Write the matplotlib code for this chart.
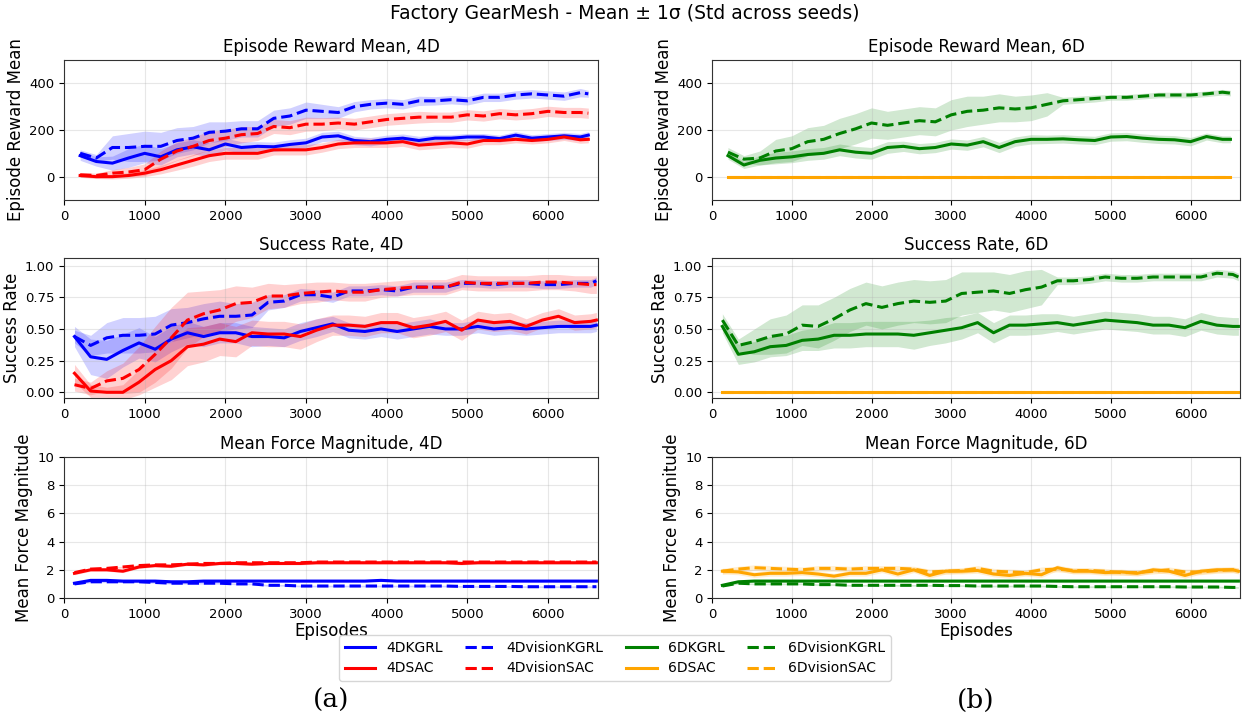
import numpy as np
import matplotlib
matplotlib.use("Agg")
import matplotlib.pyplot as plt
from matplotlib.lines import Line2D

# episodes on the x axis
ep_reward = np.append(np.arange(200, 6401, 200), 6500)
ep_rate = np.append(np.arange(130, 6531, 200), 6600)

# ---- 4D, episode reward mean ----
r4_kgrl = [90, 65, 58, 80, 100, 85, 115, 128, 115, 140, 125, 130, 128, 138, 145, 170, 175,
           155, 150, 160, 165, 155, 165, 165, 170, 170, 163, 178, 165, 170, 175, 170, 178]
r4_kgrl_sd = [20, 20, 30, 40, 40, 35, 30, 30, 30, 25, 25, 20, 20, 20, 20, 20, 20,
              18, 18, 18, 18, 18, 15, 15, 15, 15, 15, 15, 15, 15, 15, 15, 15]
r4_vkgrl = [100, 80, 125, 125, 130, 130, 155, 165, 190, 195, 205, 205, 250, 260, 285, 280, 275,
            300, 310, 315, 310, 325, 325, 330, 325, 340, 340, 350, 355, 350, 345, 360, 355]
r4_vkgrl_sd = [15, 15, 50, 60, 65, 60, 55, 50, 45, 40, 35, 35, 35, 35, 35, 30, 25,
               22, 20, 20, 20, 20, 18, 18, 18, 18, 18, 18, 18, 18, 18, 18, 15]
r4_sac = [5, 0, 0, 5, 15, 30, 50, 70, 90, 100, 100, 100, 115, 115, 115, 125, 140,
          145, 145, 145, 150, 135, 140, 145, 140, 155, 155, 160, 155, 160, 170, 158, 160]
r4_sac_sd = [8, 8, 10, 12, 15, 18, 22, 25, 25, 25, 25, 25, 22, 22, 22, 20, 20,
             20, 20, 20, 20, 20, 20, 20, 18, 18, 18, 15, 15, 15, 15, 15, 15]
r4_vsac = [8, 5, 15, 20, 30, 75, 110, 130, 155, 165, 180, 185, 215, 210, 225, 225, 230,
           225, 235, 245, 250, 255, 255, 255, 265, 260, 270, 265, 270, 280, 275, 275, 272]
r4_vsac_sd = [10, 10, 15, 20, 25, 35, 40, 40, 40, 35, 35, 30, 30, 30, 30, 28, 25,
              25, 25, 25, 25, 25, 22, 22, 22, 22, 22, 22, 22, 22, 22, 22, 22]

# ---- 6D, episode reward mean ----
r6_kgrl = [90, 50, 70, 80, 85, 95, 100, 115, 105, 100, 125, 130, 120, 125, 140, 135, 150,
           125, 150, 160, 160, 162, 158, 155, 170, 172, 165, 160, 158, 150, 172, 160, 160]
r6_kgrl_sd = [15, 15, 20, 25, 25, 25, 25, 25, 25, 25, 25, 22, 22, 22, 22, 22, 22,
              22, 20, 20, 18, 18, 18, 18, 18, 18, 18, 18, 18, 18, 15, 15, 15]
r6_vkgrl = [105, 75, 80, 110, 120, 150, 160, 185, 205, 230, 220, 230, 240, 235, 265, 280, 285,
            295, 290, 295, 310, 325, 330, 335, 340, 340, 345, 350, 350, 350, 355, 362, 358]
r6_vkgrl_sd = [20, 15, 30, 50, 55, 60, 60, 65, 65, 65, 60, 60, 60, 60, 65, 65, 60,
               60, 55, 55, 50, 15, 15, 15, 12, 12, 12, 12, 12, 12, 12, 12, 12]
r6_sac = [0.0] * 33
r6_vsac = [0.0] * 33

# ---- 4D, success rate ----
s4_kgrl = [0.44, 0.28, 0.26, 0.33, 0.39, 0.34, 0.42, 0.47, 0.44, 0.47, 0.47, 0.44, 0.44, 0.43, 0.48, 0.51, 0.54,
           0.49, 0.48, 0.50, 0.48, 0.50, 0.52, 0.50, 0.50, 0.52, 0.50, 0.51, 0.50, 0.51, 0.52, 0.52, 0.52, 0.53]
s4_kgrl_sd = [0.08, 0.14, 0.15, 0.13, 0.12, 0.10, 0.10, 0.09, 0.08, 0.08, 0.08, 0.08, 0.07, 0.07, 0.07, 0.07, 0.06,
              0.06, 0.06, 0.06, 0.06, 0.06, 0.06, 0.05, 0.05, 0.05, 0.05, 0.05, 0.05, 0.05, 0.05, 0.05, 0.05, 0.05]
s4_vkgrl = [0.44, 0.37, 0.43, 0.45, 0.45, 0.46, 0.53, 0.55, 0.58, 0.60, 0.60, 0.61, 0.71, 0.72, 0.77, 0.77, 0.75,
            0.80, 0.80, 0.81, 0.80, 0.83, 0.83, 0.83, 0.86, 0.86, 0.85, 0.86, 0.86, 0.85, 0.85, 0.86, 0.86, 0.88]
s4_vkgrl_sd = [0.05, 0.08, 0.12, 0.14, 0.14, 0.14, 0.13, 0.12, 0.12, 0.12, 0.10, 0.10, 0.06, 0.05, 0.05, 0.04, 0.04,
               0.04, 0.04, 0.04, 0.04, 0.04, 0.04, 0.04, 0.03, 0.03, 0.03, 0.03, 0.03, 0.03, 0.03, 0.03, 0.03, 0.03]
s4_sac = [0.15, 0.01, 0.0, 0.0, 0.08, 0.18, 0.25, 0.36, 0.38, 0.42, 0.40, 0.47, 0.46, 0.46, 0.44, 0.49, 0.53,
          0.53, 0.52, 0.55, 0.55, 0.51, 0.53, 0.56, 0.49, 0.57, 0.55, 0.56, 0.52, 0.57, 0.60, 0.55, 0.56, 0.57]
s4_sac_sd = [0.07, 0.05, 0.04, 0.06, 0.10, 0.14, 0.15, 0.15, 0.14, 0.13, 0.12, 0.10, 0.10, 0.10, 0.10, 0.09, 0.08,
             0.08, 0.08, 0.08, 0.08, 0.08, 0.08, 0.08, 0.08, 0.07, 0.07, 0.07, 0.06, 0.06, 0.06, 0.06, 0.06, 0.06]
s4_vsac = [0.06, 0.03, 0.09, 0.11, 0.18, 0.30, 0.43, 0.57, 0.62, 0.65, 0.70, 0.71, 0.76, 0.76, 0.78, 0.79, 0.80,
           0.79, 0.79, 0.81, 0.82, 0.83, 0.83, 0.83, 0.87, 0.86, 0.86, 0.86, 0.86, 0.87, 0.87, 0.86, 0.85, 0.85]
s4_vsac_sd = [0.05, 0.05, 0.08, 0.12, 0.18, 0.22, 0.24, 0.22, 0.18, 0.16, 0.14, 0.12, 0.10, 0.09, 0.08, 0.08, 0.07,
              0.07, 0.07, 0.06, 0.06, 0.06, 0.06, 0.06, 0.06, 0.06, 0.06, 0.06, 0.06, 0.06, 0.06, 0.06, 0.07, 0.07]

# ---- 6D, success rate ----
s6_kgrl = [0.52, 0.30, 0.32, 0.36, 0.37, 0.41, 0.42, 0.45, 0.45, 0.46, 0.46, 0.46, 0.45, 0.47, 0.49, 0.51, 0.55,
           0.47, 0.53, 0.53, 0.54, 0.55, 0.53, 0.55, 0.57, 0.56, 0.55, 0.53, 0.53, 0.51, 0.56, 0.53, 0.52, 0.52]
s6_kgrl_sd = [0.05, 0.08, 0.08, 0.08, 0.08, 0.08, 0.09, 0.10, 0.10, 0.10, 0.10, 0.10, 0.11, 0.10, 0.10, 0.09, 0.08,
              0.08, 0.08, 0.08, 0.08, 0.07, 0.07, 0.07, 0.07, 0.07, 0.07, 0.07, 0.07, 0.07, 0.07, 0.07, 0.07, 0.07]
s6_vkgrl = [0.57, 0.37, 0.40, 0.44, 0.46, 0.53, 0.52, 0.58, 0.65, 0.70, 0.67, 0.70, 0.72, 0.71, 0.72, 0.78, 0.79,
            0.80, 0.78, 0.81, 0.83, 0.88, 0.88, 0.89, 0.91, 0.90, 0.90, 0.91, 0.91, 0.91, 0.91, 0.94, 0.93, 0.91]
s6_vkgrl_sd = [0.05, 0.05, 0.10, 0.14, 0.15, 0.16, 0.17, 0.17, 0.17, 0.17, 0.17, 0.17, 0.17, 0.17, 0.17, 0.17, 0.16,
               0.15, 0.15, 0.15, 0.14, 0.03, 0.03, 0.03, 0.03, 0.03, 0.03, 0.03, 0.03, 0.03, 0.03, 0.03, 0.03, 0.03]
s6_sac = [0.0] * 34
s6_vsac = [0.0] * 34

# ---- 4D, mean force magnitude ----
f4_kgrl = [1.05, 1.25, 1.25, 1.2, 1.2, 1.2, 1.15, 1.15, 1.2, 1.2, 1.2, 1.2, 1.2, 1.2, 1.2, 1.2, 1.2,
           1.2, 1.2, 1.25, 1.2, 1.2, 1.2, 1.2, 1.2, 1.2, 1.2, 1.2, 1.2, 1.2, 1.2, 1.2, 1.2, 1.2]
f4_vkgrl = [1.0, 1.15, 1.15, 1.15, 1.15, 1.1, 1.05, 1.05, 1.05, 1.05, 1.0, 1.0, 0.9, 0.9, 0.85, 0.85, 0.85,
            0.85, 0.85, 0.85, 0.85, 0.85, 0.85, 0.85, 0.82, 0.82, 0.82, 0.82, 0.8, 0.8, 0.8, 0.8, 0.8, 0.8]
f4_sac = [1.75, 2.0, 2.0, 1.9, 2.2, 2.3, 2.25, 2.4, 2.35, 2.45, 2.45, 2.4, 2.45, 2.45, 2.45, 2.5, 2.5,
          2.5, 2.5, 2.5, 2.5, 2.5, 2.5, 2.5, 2.45, 2.5, 2.5, 2.5, 2.5, 2.5, 2.5, 2.5, 2.5, 2.5]
f4_vsac = [1.8, 2.05, 2.1, 2.2, 2.3, 2.35, 2.35, 2.4, 2.45, 2.45, 2.5, 2.5, 2.5, 2.5, 2.5, 2.55, 2.55,
           2.55, 2.55, 2.55, 2.55, 2.55, 2.55, 2.55, 2.55, 2.55, 2.55, 2.55, 2.55, 2.55, 2.55, 2.55, 2.55, 2.55]
f4_sd = {"4DKGRL": 0.08, "4DvisionKGRL": 0.06, "4DSAC": 0.1, "4DvisionSAC": 0.06}

# ---- 6D, mean force magnitude ----
f6_kgrl = [0.9, 1.15, 1.2, 1.2, 1.2, 1.2, 1.2, 1.2, 1.2, 1.2, 1.2, 1.2, 1.2, 1.2, 1.2, 1.2, 1.2,
           1.2, 1.2, 1.2, 1.2, 1.2, 1.2, 1.2, 1.2, 1.2, 1.2, 1.2, 1.2, 1.2, 1.2, 1.2, 1.2, 1.2]
f6_vkgrl = [0.85, 1.05, 1.0, 1.0, 1.0, 1.0, 0.95, 0.95, 0.9, 0.9, 0.9, 0.9, 0.9, 0.9, 0.88, 0.88, 0.85,
            0.85, 0.85, 0.85, 0.85, 0.82, 0.8, 0.8, 0.8, 0.8, 0.8, 0.8, 0.8, 0.78, 0.78, 0.78, 0.75, 0.75]
f6_sac = [1.9, 1.85, 1.65, 1.75, 1.75, 1.8, 1.7, 1.55, 1.75, 1.75, 2.0, 1.7, 2.0, 1.6, 1.9, 1.9, 1.95,
          1.7, 1.6, 1.75, 1.65, 2.15, 1.9, 1.9, 1.8, 1.85, 1.75, 2.0, 1.9, 1.6, 1.9, 2.0, 2.0, 1.9]
f6_vsac = [1.9, 2.05, 2.15, 2.1, 2.05, 2.0, 2.1, 2.1, 2.05, 2.1, 2.1, 2.1, 2.05, 1.85, 1.9, 1.95, 2.1,
           1.9, 1.85, 1.8, 2.0, 2.05, 1.95, 1.95, 1.9, 1.8, 1.8, 1.9, 2.0, 1.85, 1.85, 1.95, 2.0, 1.95]
f6_sd = {"6DKGRL": 0.06, "6DvisionKGRL": 0.06, "6DSAC": 0.2, "6DvisionSAC": 0.2}

colors = {"KGRL4": "blue", "SAC4": "red", "KGRL6": "green", "SAC6": "orange"}

plt.rcParams["font.family"] = "DejaVu Sans"
plt.rcParams["xtick.labelsize"] = 9.5
plt.rcParams["ytick.labelsize"] = 9.5

fig = plt.figure(figsize=(12.5, 7.18), dpi=100)
W, H = 1250.0, 718.0


def make_ax(x0, x1, y0, y1):
    return fig.add_axes([x0 / W, 1 - y1 / H, (x1 - x0) / W, (y1 - y0) / H])


cols = [(64, 598), (712, 1240)]
rows = [(60, 200), (258, 398), (457, 598)]
axes = [[make_ax(c[0], c[1], r[0], r[1]) for c in cols] for r in rows]


def band(ax, x, m, s, color, ls):
    m = np.asarray(m, dtype=float)
    s = np.asarray(s, dtype=float) * np.ones_like(m)
    ax.fill_between(x, m - s, m + s, color=color, alpha=0.18, lw=0)
    ax.plot(x, m, color=color, ls=ls, lw=2.2)


# rewards
ax = axes[0][0]
band(ax, ep_reward, r4_kgrl, r4_kgrl_sd, colors["KGRL4"], "-")
band(ax, ep_reward, r4_vkgrl, r4_vkgrl_sd, colors["KGRL4"], "--")
band(ax, ep_reward, r4_sac, r4_sac_sd, colors["SAC4"], "-")
band(ax, ep_reward, r4_vsac, r4_vsac_sd, colors["SAC4"], "--")
ax = axes[0][1]
band(ax, ep_reward, r6_kgrl, r6_kgrl_sd, colors["KGRL6"], "-")
band(ax, ep_reward, r6_vkgrl, r6_vkgrl_sd, colors["KGRL6"], "--")
band(ax, ep_reward, r6_sac, 0, colors["SAC6"], "-")
band(ax, ep_reward, r6_vsac, 0, colors["SAC6"], "--")

# success
ax = axes[1][0]
band(ax, ep_rate, s4_kgrl, s4_kgrl_sd, colors["KGRL4"], "-")
band(ax, ep_rate, s4_vkgrl, s4_vkgrl_sd, colors["KGRL4"], "--")
band(ax, ep_rate, s4_sac, s4_sac_sd, colors["SAC4"], "-")
band(ax, ep_rate, s4_vsac, s4_vsac_sd, colors["SAC4"], "--")
ax = axes[1][1]
band(ax, ep_rate, s6_kgrl, s6_kgrl_sd, colors["KGRL6"], "-")
band(ax, ep_rate, s6_vkgrl, s6_vkgrl_sd, colors["KGRL6"], "--")
band(ax, ep_rate, s6_sac, 0, colors["SAC6"], "-")
band(ax, ep_rate, s6_vsac, 0, colors["SAC6"], "--")

# force
ax = axes[2][0]
band(ax, ep_rate, f4_kgrl, f4_sd["4DKGRL"], colors["KGRL4"], "-")
band(ax, ep_rate, f4_vkgrl, f4_sd["4DvisionKGRL"], colors["KGRL4"], "--")
band(ax, ep_rate, f4_sac, f4_sd["4DSAC"], colors["SAC4"], "-")
band(ax, ep_rate, f4_vsac, f4_sd["4DvisionSAC"], colors["SAC4"], "--")
ax = axes[2][1]
band(ax, ep_rate, f6_kgrl, f6_sd["6DKGRL"], colors["KGRL6"], "-")
band(ax, ep_rate, f6_vkgrl, f6_sd["6DvisionKGRL"], colors["KGRL6"], "--")
band(ax, ep_rate, f6_sac, f6_sd["6DSAC"], colors["SAC6"], "-")
band(ax, ep_rate, f6_vsac, f6_sd["6DvisionSAC"], colors["SAC6"], "--")

titles = [["Episode Reward Mean, 4D", "Episode Reward Mean, 6D"],
          ["Success Rate, 4D", "Success Rate, 6D"],
          ["Mean Force Magnitude, 4D", "Mean Force Magnitude, 6D"]]
ylabels = ["Episode Reward Mean", "Success Rate", "Mean Force Magnitude"]

for i in range(3):
    for j in range(2):
        ax = axes[i][j]
        ax.set_title(titles[i][j], fontsize=12, pad=6)
        ax.set_ylabel(ylabels[i], fontsize=12, labelpad=3)
        ax.set_xlim(0, 6620)
        ax.set_xticks([0, 1000, 2000, 3000, 4000, 5000, 6000])
        ax.grid(True, alpha=0.3)
        for sp in ax.spines.values():
            sp.set_color("#333333")
        if i == 0:
            ax.set_ylim(-100, 500)
            ax.set_yticks([0, 200, 400])
        elif i == 1:
            ax.set_ylim(-0.045, 1.06)
            ax.set_yticks([0, 0.25, 0.5, 0.75, 1.0])
        else:
            ax.set_ylim(0, 10)
            ax.set_yticks([0, 2, 4, 6, 8, 10])
            ax.set_xlabel("Episodes", fontsize=12, labelpad=1)

fig.suptitle("Factory GearMesh - Mean ± 1σ (Std across seeds)", fontsize=13.5, y=0.995)

labels = ["4DKGRL", "4DSAC", "4DvisionKGRL", "4DvisionSAC",
          "6DKGRL", "6DSAC", "6DvisionKGRL", "6DvisionSAC"]
lcolors = ["blue", "red", "blue", "red", "green", "orange", "green", "orange"]
lstyles = ["-", "-", "--", "--", "-", "-", "--", "--"]
handles = [Line2D([0], [0], color=c, ls=s, lw=2.2) for c, s in zip(lcolors, lstyles)]
fig.legend(handles, labels, ncol=4, loc="center", bbox_to_anchor=(615 / W, 1 - 658 / H),
           fontsize=10, frameon=True, columnspacing=1.6, handlelength=2.2)

fig.text(331 / W, 1 - 700 / H, "(a)", family="DejaVu Serif", fontsize=19, ha="center", va="center")
fig.text(976 / W, 1 - 700 / H, "(b)", family="DejaVu Serif", fontsize=19, ha="center", va="center")

fig.savefig("out.png", dpi=100)
